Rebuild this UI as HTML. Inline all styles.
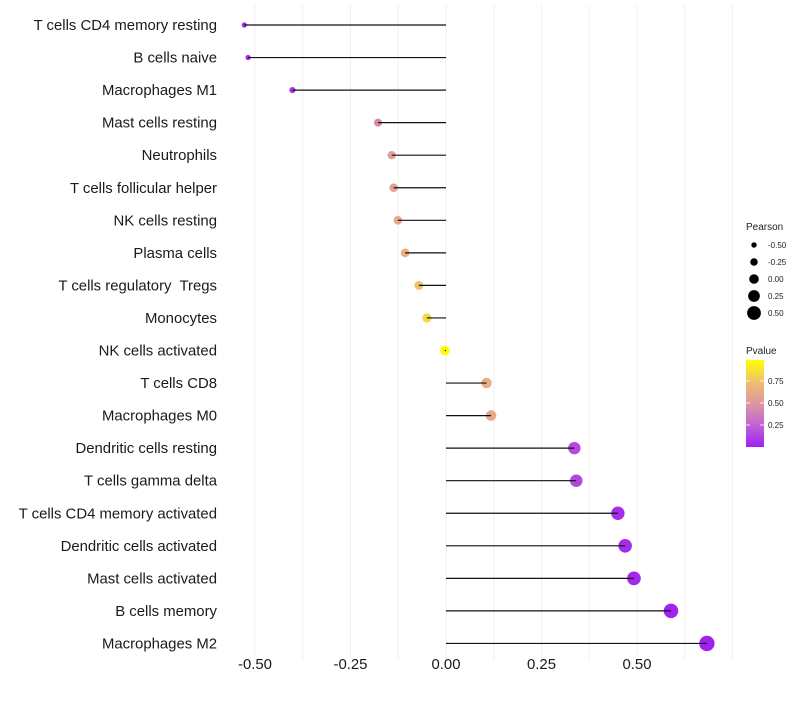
<!DOCTYPE html>
<html><head><meta charset="utf-8"><style>
body{margin:0;background:#fff;font-family:"Liberation Sans",sans-serif}
text{white-space:pre}
</style></head><body>
<svg id="chart" width="800" height="700" xmlns="http://www.w3.org/2000/svg" font-family="Liberation Sans, sans-serif"></svg>
<script>
const categories=["T cells CD4 memory resting","B cells naive","Macrophages M1","Mast cells resting","Neutrophils","T cells follicular helper","NK cells resting","Plasma cells","T cells regulatory  Tregs","Monocytes","NK cells activated","T cells CD8","Macrophages M0","Dendritic cells resting","T cells gamma delta","T cells CD4 memory activated","Dendritic cells activated","Mast cells activated","B cells memory","Macrophages M2"];
const pearson=[-0.528,-0.518,-0.402,-0.178,-0.142,-0.137,-0.126,-0.107,-0.071,-0.05,-0.003,0.106,0.118,0.336,0.341,0.45,0.469,0.492,0.589,0.683];
const pvalue=[0.02,0.02,0.08,0.45,0.55,0.57,0.6,0.65,0.76,0.85,0.99,0.65,0.62,0.15,0.14,0.05,0.04,0.03,0.01,0.001];
const xTicks=[-0.5,-0.25,0,0.25,0.5];
const xTickLabels=["-0.50","-0.25","0.00","0.25","0.50"];
const sizeLegend=[-0.5,-0.25,0,0.25,0.5];
const sizeLegendLabels=["-0.50","-0.25","0.00","0.25","0.50"];
const pTicks=[0.25,0.5,0.75];
const pTickLabels=["0.25","0.50","0.75"];

const NS="http://www.w3.org/2000/svg";
const svg=document.getElementById('chart');
function mk(t,a,p){const e=document.createElementNS(NS,t);for(const k in a)e.setAttribute(k,a[k]);(p||svg).appendChild(e);return e;}
const xS=v=>446+v*382;
const yS=i=>25+i*32.55;
const rS=v=>4.8+v*4.2;
const stops=[[0,[160,32,240]],[0.25,[192,100,210]],[0.5,[222,150,160]],[0.75,[240,190,110]],[1,[255,255,0]]];
function col(p){for(let i=1;i<stops.length;i++){if(p<=stops[i][0]){const a=stops[i-1],b=stops[i],t=(p-a[0])/(b[0]-a[0]);return 'rgb('+a[1].map((c,j)=>Math.round(c+(b[1][j]-c)*t)).join(',')+')';}}return 'rgb(255,255,0)';}

for(let v=-0.5;v<=0.751;v+=0.125){
  const g=mk('line',{x1:xS(v),x2:xS(v),y1:5,y2:660,stroke:'#f0f0f0','stroke-width':1});
  
  
}
xTicks.forEach((v,i)=>{
  const t=mk('text',{x:xS(v),y:669,'text-anchor':'middle','font-size':14.9,fill:'#1a1a1a'});
  t.textContent=xTickLabels[i];
  
  
});
categories.forEach((c,i)=>{
  const y=yS(i);
  const t=mk('text',{x:217,y:y+5,'text-anchor':'end','font-size':14.9,fill:'#1a1a1a'});
  t.textContent=c;
  
  
  const d=mk('circle',{cx:xS(pearson[i]),cy:y,r:rS(pearson[i]),fill:col(pvalue[i])});
  
  
  const l=mk('line',{x1:xS(0),x2:xS(pearson[i]),y1:y,y2:y,stroke:'#111','stroke-width':1.2});
  
  
});
const lt=mk('text',{x:746,y:230,'font-size':10,fill:'#222'});lt.textContent='Pearson';


sizeLegend.forEach((v,i)=>{
  const y=245+i*17;
  const c=mk('circle',{cx:754,cy:y,r:rS(v),fill:'#000'});
  
  
  const t=mk('text',{x:768,y:y+3,'font-size':8,fill:'#222'});t.textContent=sizeLegendLabels[i];
  
  
});
const pt=mk('text',{x:746,y:354,'font-size':10,fill:'#222'});pt.textContent='Pvalue';


const defs=mk('defs',{});
const lg=mk('linearGradient',{id:'pg',x1:0,y1:1,x2:0,y2:0},defs);
stops.forEach(s=>mk('stop',{offset:s[0],'stop-color':'rgb('+s[1].join(',')+')'},lg));
const cb=mk('rect',{x:746,y:360,width:18,height:87,fill:'url(#pg)'});


pTicks.forEach((v,i)=>{
  const y=447-v*88;
  mk('line',{x1:746,x2:750,y1:y,y2:y,stroke:'#fff','stroke-width':0.8});
  mk('line',{x1:760,x2:764,y1:y,y2:y,stroke:'#fff','stroke-width':0.8});
  const t=mk('text',{x:768,y:y+3,'font-size':8,fill:'#222'});t.textContent=pTickLabels[i];
  
  
});
</script>
</body></html>
